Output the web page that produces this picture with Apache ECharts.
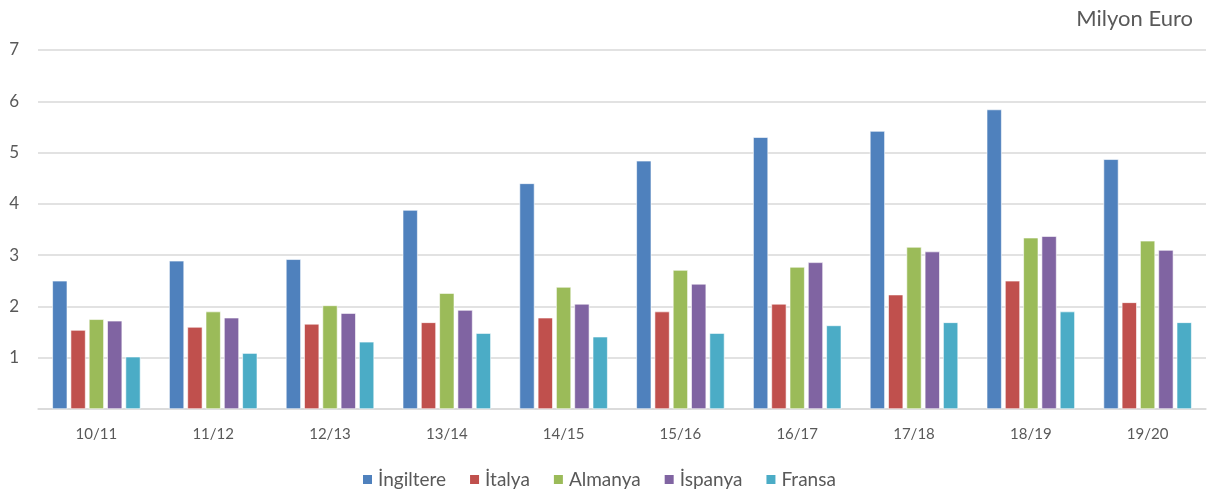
<!DOCTYPE html>
<html>
<head>
<meta charset="utf-8">
<script src="https://cdn.jsdelivr.net/npm/echarts@6/dist/echarts.min.js"></script>
<style>
  html, body { margin: 0; padding: 0; background: #fff; }
  #chart { width: 1213px; height: 500px; }
</style>
</head>
<body>
<div id="chart"></div>
<script>
// seasons
const seasons = ["10/11", "11/12", "12/13", "13/14", "14/15", "15/16", "16/17", "17/18", "18/19", "19/20"];

// values in milyon euro
const ingiltere = [2.50, 2.89, 2.92, 3.88, 4.40, 4.84, 5.30, 5.42, 5.84, 4.87];
const italya    = [1.54, 1.60, 1.66, 1.69, 1.78, 1.90, 2.05, 2.23, 2.50, 2.08];
const almanya   = [1.75, 1.90, 2.02, 2.26, 2.38, 2.71, 2.77, 3.16, 3.34, 3.28];
const ispanya   = [1.72, 1.78, 1.87, 1.93, 2.05, 2.44, 2.86, 3.07, 3.37, 3.10];
const fransa    = [1.02, 1.09, 1.31, 1.48, 1.41, 1.48, 1.63, 1.69, 1.90, 1.69];

const yTicks = [1, 2, 3, 4, 5, 6, 7];

const font = "Lato, 'Open Sans', sans-serif";
const textColor = "#595959";

function bar(name, data, color) {
  return {
    name: name,
    type: "bar",
    data: data,
    barWidth: 15,
    barGap: "22%",
    itemStyle: { color: color, borderColor: "#fff", borderWidth: 0.6 }
  };
}

const chart = echarts.init(document.getElementById("chart"));
chart.setOption({
  animation: false,
  textStyle: { fontFamily: font },
  title: {
    text: "Milyon Euro",
    right: 15,
    top: 3,
    textStyle: { fontFamily: font, fontSize: 22, fontWeight: "normal", color: textColor }
  },
  grid: { left: 38, right: 7, top: 50, bottom: 91 },
  legend: {
    bottom: 6,
    left: 356,
    itemWidth: 11,
    itemHeight: 11,
    itemGap: 22,
    icon: "rect",
    textStyle: { fontFamily: font, fontSize: 19, color: textColor },
    data: ["İngiltere", "İtalya", "Almanya", "İspanya", "Fransa"]
  },
  xAxis: {
    type: "category",
    data: seasons,
    axisLine: { lineStyle: { color: "#d9d9d9", width: 1.5 } },
    axisTick: { show: false },
    axisLabel: { color: textColor, fontSize: 15, margin: 18, fontFamily: font }
  },
  yAxis: {
    type: "value",
    min: 0,
    max: 7,
    interval: 1,
    axisLine: { show: false },
    axisTick: { show: false },
    splitLine: { lineStyle: { color: "#d9d9d9", width: 1.5 } },
    axisLabel: {
      color: textColor,
      fontSize: 17,
      margin: 19,
      fontFamily: font,
      formatter: function (v) { return yTicks.indexOf(v) >= 0 ? String(v) : ""; }
    }
  },
  series: [
    bar("İngiltere", ingiltere, "#4f81bd"),
    bar("İtalya", italya, "#c0504d"),
    bar("Almanya", almanya, "#9bbb59"),
    bar("İspanya", ispanya, "#8064a2"),
    bar("Fransa", fransa, "#4bacc6")
  ]
});
</script>
</body>
</html>
